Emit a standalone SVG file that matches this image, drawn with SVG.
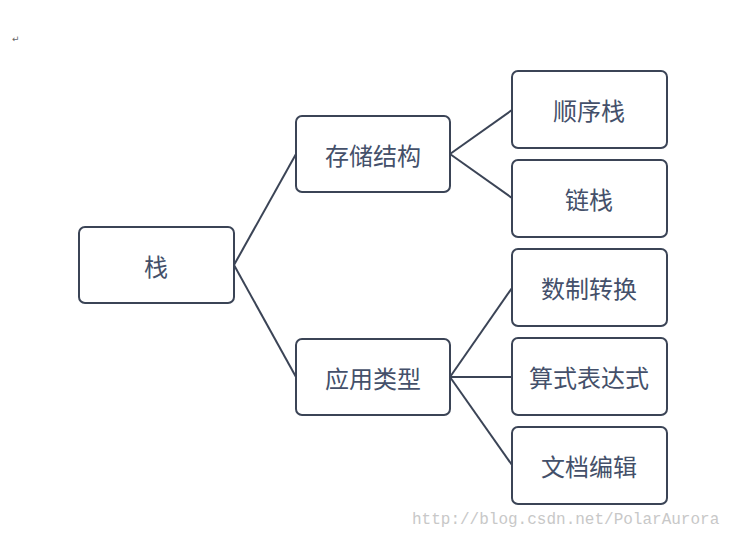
<svg xmlns="http://www.w3.org/2000/svg" width="743" height="539" viewBox="0 0 743 539">
<style>
.n rect{fill:#fff;stroke:#3b4456;stroke-width:2}
.n text{font-family:"Noto Sans CJK SC","Noto Sans",sans-serif;font-size:24px;fill:#44506a;text-anchor:middle;dominant-baseline:central}
#edges line{stroke:#3b4456;stroke-width:2}
</style>
<rect width="743" height="539" fill="#fff"/>
<text x="12" y="42" font-family="DejaVu Sans,sans-serif" font-size="9" fill="#666">↵</text>
<g id="edges">
<line x1="234" y1="265" x2="296" y2="154"/>
<line x1="234" y1="265" x2="296" y2="377"/>
<line x1="450" y1="154" x2="512" y2="110"/>
<line x1="450" y1="154" x2="512" y2="198"/>
<line x1="450" y1="377" x2="512" y2="288"/>
<line x1="450" y1="377" x2="512" y2="377"/>
<line x1="450" y1="377" x2="512" y2="465"/>
</g>
<g id="n0" class="n"><rect x="79" y="227" width="155" height="76" rx="6"/><text x="156" y="265">栈</text></g>
<g id="n1" class="n"><rect x="296" y="116" width="154" height="76" rx="6"/><text x="373" y="154">存储结构</text></g>
<g id="n2" class="n"><rect x="296" y="339" width="154" height="76" rx="6"/><text x="373" y="377">应用类型</text></g>
<g id="n3" class="n"><rect x="512" y="71" width="155" height="77" rx="6"/><text x="589" y="109">顺序栈</text></g>
<g id="n4" class="n"><rect x="512" y="160" width="155" height="77" rx="6"/><text x="589" y="198">链栈</text></g>
<g id="n5" class="n"><rect x="512" y="249" width="155" height="77" rx="6"/><text x="589" y="287">数制转换</text></g>
<g id="n6" class="n"><rect x="512" y="338" width="155" height="77" rx="6"/><text x="589" y="376">算式表达式</text></g>
<g id="n7" class="n"><rect x="512" y="427" width="155" height="77" rx="6"/><text x="589" y="465">文档编辑</text></g>
<text x="412" y="524" font-family="Liberation Mono,monospace" font-size="16" fill="#c8c8c8">http://blog.csdn.net/PolarAurora</text>
</svg>
